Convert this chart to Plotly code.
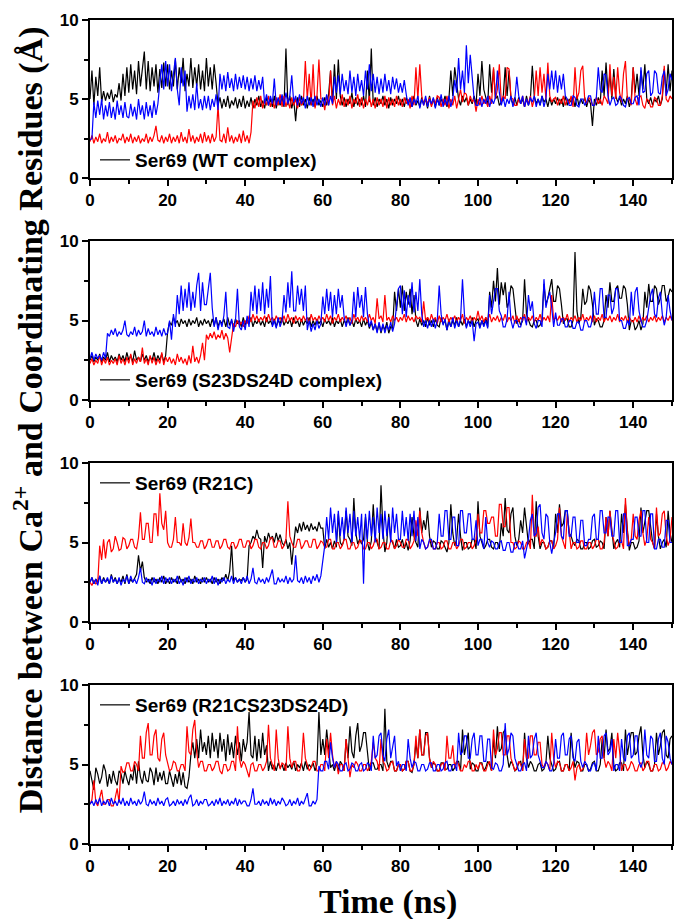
import plotly.graph_objects as go

# time axis: samples every 0.5 ns from 0 to 150 ns
TIME = [i * 0.5 for i in range(301)]

# ---------------- Panel 1: Ser69 (WT complex) ----------------
P1_BLACK = [
    5.0, 6.8, 4.6, 6.4, 5.2, 7.0, 4.8, 5.5, 4.9, 5.4, 5.0, 5.6, 4.8, 5.3, 5.1, 6.0, 4.9, 6.6, 5.2, 7.0,
    5.4, 7.2, 5.6, 6.8, 5.3, 7.4, 5.8, 7.0, 8.0, 5.6, 7.4, 5.5, 7.0, 5.8, 7.2, 5.4, 6.9, 5.7, 7.3, 5.8,
    7.2, 5.6, 6.8, 5.8, 7.5, 5.6, 7.0, 6.0, 7.6, 5.5, 6.6, 5.8, 7.6, 5.7, 7.0, 5.8, 7.2, 5.6, 6.8, 5.5,
    7.6, 5.8, 7.0, 5.6, 7.2, 6.0, 4.6, 5.1, 4.4, 5.0, 4.5, 5.2, 4.4, 4.9, 4.6, 5.1, 4.4, 5.0, 4.5, 5.2,
    4.4, 4.9, 4.5, 5.1, 4.4, 5.0, 4.6, 5.2, 4.5, 4.9, 4.4, 5.1, 4.6, 5.0, 4.5, 5.2, 4.4, 5.0, 4.6, 5.1,
    4.5, 8.2, 4.6, 5.2, 4.4, 5.0, 3.6, 5.1, 4.5, 5.2, 4.6, 5.0, 4.4, 5.1, 4.6, 5.0, 4.5, 5.2, 4.6, 4.9,
    4.5, 5.1, 4.6, 5.3, 6.8, 4.8, 7.2, 5.0, 7.5, 5.2, 4.6, 5.1, 4.5, 5.0, 4.7, 5.4, 4.5, 5.1, 4.6, 5.0,
    4.6, 5.2, 4.5, 6.8, 4.8, 8.2, 4.6, 5.1, 4.5, 5.0, 4.7, 5.2, 4.6, 5.0, 4.4, 5.1, 4.6, 5.0, 4.7, 5.2,
    4.6, 5.0, 4.5, 5.1, 4.7, 5.0, 4.5, 5.2, 4.6, 4.9, 4.5, 5.1, 4.7, 5.0, 4.4, 5.2, 4.6, 5.0, 4.5, 5.1,
    4.6, 5.0, 4.7, 5.2, 4.5, 5.0, 6.8, 5.2, 7.0, 6.0, 5.0, 4.6, 5.2, 4.8, 5.1, 4.6, 5.0, 4.7, 5.2, 4.6,
    6.6, 5.2, 7.4, 5.6, 5.0, 4.6, 7.2, 5.4, 6.9, 5.0, 5.2, 4.6, 4.8, 5.1, 7.0, 5.2, 6.8, 5.0, 4.7, 5.1,
    4.6, 5.1, 4.7, 5.0, 4.5, 5.2, 4.6, 5.0, 7.1, 5.2, 4.7, 5.0, 4.6, 5.2, 4.8, 5.0, 4.5, 5.1, 4.6, 5.0,
    4.7, 5.1, 4.6, 5.0, 4.5, 5.2, 4.6, 5.0, 4.8, 5.1, 4.5, 5.2, 4.6, 5.0, 4.7, 5.1, 4.5, 5.0, 4.7, 3.3,
    5.0, 4.6, 5.1, 4.7, 6.8, 5.2, 7.3, 5.4, 6.6, 5.0, 6.9, 5.2, 4.8, 5.1, 4.6, 5.0, 4.7, 5.2, 4.5, 5.0,
    7.0, 5.4, 6.6, 5.2, 6.8, 5.6, 7.2, 5.0, 4.7, 5.1, 4.6, 5.0, 4.8, 5.2, 4.6, 5.0, 6.9, 5.4, 7.2, 5.5,
    6.8]
P1_RED = [
    2.3, 2.7, 2.2, 2.6, 2.3, 2.8, 2.2, 2.5, 2.3, 2.9, 2.2, 2.6, 2.3, 2.7, 2.2, 2.5, 2.4, 2.8, 2.2, 2.6,
    2.3, 2.8, 2.2, 2.6, 2.3, 2.7, 2.2, 2.5, 2.3, 2.8, 2.2, 2.6, 2.3, 2.7, 3.3, 2.4, 2.3, 2.7, 2.2, 2.6,
    2.3, 2.8, 2.2, 2.6, 2.3, 2.7, 2.2, 2.9, 2.3, 2.6, 2.2, 3.1, 2.3, 2.7, 2.2, 2.6, 2.3, 2.8, 2.2, 2.9,
    2.3, 2.7, 2.2, 2.8, 2.3, 2.6, 4.6, 2.4, 2.3, 2.8, 2.2, 3.2, 2.3, 2.7, 2.2, 2.6, 2.3, 2.8, 2.2, 3.0,
    2.3, 2.7, 2.2, 2.9, 4.9, 4.4, 5.1, 4.5, 5.2, 4.4, 5.0, 4.6, 5.2, 4.5, 5.0, 4.4, 5.1, 4.6, 5.3, 4.5,
    5.2, 4.5, 5.0, 4.4, 5.1, 4.6, 5.0, 4.4, 5.1, 4.6, 4.8, 7.4, 5.0, 6.6, 4.6, 7.2, 4.4, 5.2, 7.5, 5.0,
    5.0, 4.3, 5.2, 4.6, 6.8, 4.6, 5.2, 4.4, 5.0, 4.6, 5.3, 4.5, 5.0, 4.6, 5.2, 4.4, 5.0, 4.7, 5.3, 4.5,
    5.1, 4.4, 5.0, 4.6, 5.2, 4.5, 5.0, 4.4, 5.1, 4.6, 5.0, 4.5, 5.2, 4.4, 5.1, 4.6, 5.0, 4.5, 5.2, 4.6,
    5.0, 4.5, 5.1, 4.7, 5.0, 4.4, 5.2, 4.6, 7.0, 5.0, 7.2, 5.2, 4.6, 5.0, 4.7, 5.1, 4.5, 5.0, 4.7, 5.2,
    5.1, 4.5, 5.0, 4.6, 5.2, 4.4, 5.0, 4.6, 5.2, 4.4, 5.0, 5.6, 4.8, 5.4, 5.3, 4.6, 5.2, 4.8, 5.0, 4.2,
    5.0, 4.6, 5.2, 4.7, 5.0, 4.5, 5.2, 4.7, 7.0, 5.0, 5.6, 7.2, 4.8, 5.2, 5.0, 7.0, 6.9, 5.1, 5.0, 4.6,
    4.6, 5.0, 4.7, 5.2, 4.5, 5.0, 4.7, 5.2, 4.5, 5.0, 6.8, 5.2, 7.0, 5.4, 6.6, 5.0, 7.3, 5.2, 4.8, 5.0,
    5.1, 4.6, 5.0, 4.7, 5.2, 4.6, 5.0, 4.7, 5.2, 4.5, 7.0, 5.0, 5.4, 6.8, 7.1, 5.0, 4.7, 5.1, 5.0, 4.6,
    4.6, 5.1, 4.7, 5.0, 4.6, 5.2, 5.0, 4.7, 7.2, 5.2, 6.4, 5.0, 7.0, 5.4, 4.8, 6.6, 7.4, 5.0, 5.0, 4.6,
    7.0, 5.0, 4.6, 5.1, 5.2, 4.6, 4.4, 5.0, 4.9, 4.5, 4.5, 5.1, 5.0, 4.6, 4.6, 5.2, 7.1, 5.0, 4.8, 5.2,
    5.0]
P1_BLUE = [
    2.4, 2.5, 4.8, 3.8, 4.9, 4.0, 5.0, 3.7, 4.6, 3.9, 4.8, 3.8, 4.5, 3.7, 4.9, 4.0, 4.6, 3.8, 4.8, 3.9,
    3.8, 4.7, 3.9, 4.5, 3.7, 5.0, 4.0, 4.6, 3.7, 4.8, 3.9, 4.6, 3.8, 4.9, 4.0, 4.7, 6.0, 7.2, 5.6, 7.4,
    5.8, 7.2, 5.5, 6.8, 7.6, 5.6, 4.6, 7.0, 5.8, 6.8, 4.2, 5.2, 4.4, 5.3, 4.3, 6.0, 4.4, 5.0, 4.3, 5.2,
    4.4, 5.2, 4.3, 5.0, 4.5, 5.3, 4.3, 6.6, 5.6, 6.5, 5.5, 6.7, 5.7, 6.3, 5.5, 6.6, 5.6, 6.4, 5.7, 6.5,
    5.6, 6.4, 5.5, 6.3, 5.6, 6.5, 5.5, 6.2, 5.6, 6.4, 4.7, 5.3, 4.6, 5.2, 4.7, 6.3, 4.6, 5.1, 4.7, 5.3,
    4.6, 5.4, 4.7, 5.2, 6.5, 4.8, 5.2, 4.6, 5.3, 4.7, 5.1, 4.4, 5.2, 4.6, 5.1, 4.5, 5.2, 4.6, 5.0, 4.5,
    5.1, 4.6, 5.3, 4.6, 5.2, 4.7, 6.4, 5.4, 6.5, 5.3, 6.6, 5.5, 6.2, 5.3, 6.8, 5.4, 6.4, 5.2, 6.6, 5.5,
    6.2, 5.2, 6.8, 5.6, 7.2, 5.5, 6.6, 5.4, 6.4, 5.3, 6.3, 5.4, 6.6, 5.5, 6.2, 5.3, 6.4, 5.6, 6.3, 5.4,
    6.0, 5.4, 6.2, 5.3, 4.6, 5.1, 4.5, 5.0, 4.7, 5.2, 4.4, 5.0, 4.6, 5.2, 4.5, 5.0, 4.7, 5.1, 4.4, 5.0,
    4.6, 5.3, 4.5, 5.0, 4.6, 5.2, 4.5, 5.0, 6.2, 5.4, 7.6, 5.6, 6.8, 5.4, 8.4, 6.0, 7.8, 6.4, 5.0, 4.6,
    4.6, 5.1, 4.5, 5.0, 4.7, 5.2, 4.5, 5.0, 4.7, 5.1, 6.8, 5.4, 4.6, 5.1, 4.5, 5.0, 4.7, 5.2, 4.5, 5.0,
    6.4, 5.2, 4.7, 5.2, 4.5, 5.0, 4.6, 5.1, 4.8, 5.2, 4.5, 5.0, 4.6, 5.2, 4.5, 5.0, 6.6, 5.6, 6.8, 5.6,
    6.8, 5.4, 6.5, 5.6, 6.6, 5.2, 5.0, 4.6, 4.6, 5.2, 5.1, 4.6, 4.5, 5.0, 5.0, 4.6, 4.8, 5.2, 5.2, 4.6,
    4.6, 5.1, 7.0, 5.6, 5.4, 6.6, 6.5, 5.2, 4.6, 5.0, 5.1, 4.6, 4.7, 5.2, 5.0, 4.6, 4.5, 5.0, 5.1, 4.7,
    4.7, 5.1, 5.2, 4.6, 7.0, 5.4, 5.5, 6.6, 6.8, 5.2, 5.4, 6.8, 6.6, 5.4, 5.3, 6.4, 6.8, 5.2, 5.6, 6.6,
    6.2]

# ---------------- Panel 2: Ser69 (S23DS24D complex) ----------------
P2_BLACK = [
    2.5, 2.8, 2.4, 2.7, 2.5, 2.9, 2.4, 2.7, 2.5, 3.0, 2.4, 2.8, 2.5, 2.7, 2.4, 2.9, 2.5, 2.8, 2.4, 3.0,
    2.5, 2.8, 2.4, 3.1, 2.5, 2.7, 2.4, 2.9, 2.5, 2.8, 2.4, 2.7, 2.5, 3.0, 2.4, 2.8, 2.5, 2.9, 2.4, 2.8,
    4.3, 4.9, 4.7, 5.2, 4.8, 5.0, 4.6, 5.1, 4.8, 5.0, 4.6, 5.1, 4.7, 5.0, 4.8, 5.2, 4.6, 5.0, 4.7, 5.1,
    4.8, 5.0, 4.6, 5.1, 4.7, 5.2, 4.6, 5.0, 4.8, 5.1, 4.6, 5.2, 4.7, 5.0, 4.6, 5.1, 4.8, 5.0, 4.6, 5.2,
    4.7, 5.1, 4.8, 5.2, 4.6, 5.0, 4.8, 5.1, 4.7, 5.0, 4.6, 5.2, 4.8, 5.0, 4.7, 5.1, 4.6, 5.0, 4.8, 5.2,
    4.7, 5.0, 4.8, 5.1, 4.6, 5.2, 4.8, 5.0, 4.6, 5.1, 4.7, 5.0, 4.8, 5.2, 4.6, 5.0, 4.7, 5.1, 4.8, 5.0,
    4.6, 5.1, 4.8, 5.0, 4.7, 5.2, 4.6, 5.0, 4.8, 5.1, 4.6, 5.0, 4.8, 5.2, 4.7, 5.0, 4.6, 5.1, 4.8, 5.0,
    4.6, 5.1, 4.7, 5.0, 4.5, 4.9, 4.4, 4.8, 4.3, 4.8, 4.2, 4.7, 4.4, 4.9, 4.2, 4.6, 4.5, 6.8, 5.6, 7.0,
    5.8, 7.2, 5.6, 6.8, 6.0, 7.0, 5.4, 6.6, 5.0, 4.6, 5.1, 4.7, 5.0, 4.6, 5.2, 4.7, 5.0, 4.6, 5.1, 4.7,
    4.6, 5.2, 4.8, 5.0, 4.4, 5.1, 4.6, 5.0, 4.7, 5.2, 4.6, 5.0, 4.7, 5.1, 4.6, 5.0, 4.8, 5.2, 4.6, 5.0,
    5.1, 4.6, 5.0, 4.7, 5.2, 4.6, 6.8, 5.8, 7.5, 6.2, 8.3, 6.0, 7.4, 6.6, 7.4, 5.8, 6.2, 7.2, 7.0, 6.0,
    4.8, 5.1, 4.7, 5.0, 7.6, 5.4, 5.0, 4.7, 4.6, 5.0, 5.0, 4.6, 4.7, 5.1, 7.3, 6.0, 6.4, 7.0, 7.6, 6.2,
    6.2, 7.2, 7.0, 6.0, 4.8, 5.1, 5.1, 4.6, 4.6, 5.0, 9.3, 5.6, 4.8, 5.2, 7.0, 6.0, 6.2, 7.2, 6.9, 6.0,
    4.7, 5.1, 5.0, 4.6, 4.6, 5.0, 6.6, 5.8, 7.4, 6.2, 6.2, 7.0, 7.2, 6.4, 6.4, 7.2, 7.0, 6.0, 4.4, 5.0,
    5.0, 4.4, 4.6, 5.0, 4.4, 4.8, 6.8, 5.8, 7.3, 6.2, 6.2, 7.2, 7.0, 6.0, 6.4, 7.2, 7.2, 6.2, 6.5, 7.0,
    6.8]
P2_RED = [
    2.3, 2.6, 2.2, 2.5, 2.3, 2.8, 2.2, 2.6, 2.3, 2.7, 2.2, 2.5, 2.3, 2.6, 2.2, 2.8, 2.3, 2.6, 2.2, 2.7,
    2.3, 2.9, 2.2, 2.6, 2.3, 2.7, 2.4, 3.3, 2.3, 2.6, 2.2, 2.8, 2.3, 2.7, 2.2, 2.6, 2.3, 3.0, 2.2, 2.7,
    2.4, 2.7, 2.3, 2.6, 2.2, 2.9, 2.4, 2.7, 2.3, 2.6, 2.2, 2.8, 2.3, 3.4, 2.4, 2.7, 2.3, 2.8, 3.6, 2.5,
    4.1, 3.8, 4.2, 3.9, 4.3, 3.8, 4.1, 3.9, 4.4, 3.8, 4.2, 3.9, 3.0, 4.1, 4.8, 4.6, 5.0, 4.7, 4.9, 4.6,
    5.0, 4.8, 5.3, 4.9, 5.4, 5.0, 5.3, 4.9, 5.2, 5.0, 5.3, 4.9, 5.4, 5.0, 5.2, 4.9, 5.3, 5.0, 5.2, 4.9,
    5.3, 4.9, 5.4, 5.0, 5.2, 4.8, 5.3, 5.0, 5.2, 4.9, 5.3, 5.0, 5.2, 4.8, 5.4, 5.0, 5.2, 4.9, 5.3, 5.0,
    5.2, 4.9, 5.4, 5.0, 5.3, 4.8, 5.2, 5.0, 5.4, 4.9, 5.2, 5.0, 5.3, 4.9, 5.2, 4.8, 5.4, 5.0, 5.2, 4.9,
    5.3, 5.0, 5.2, 4.9, 5.4, 5.0, 5.2, 4.8, 6.4, 5.1, 5.3, 4.9, 6.6, 5.0, 5.2, 4.9, 5.3, 5.0, 5.2, 4.9,
    5.2, 5.0, 5.4, 4.9, 5.3, 5.0, 5.2, 4.9, 5.3, 5.1, 5.2, 4.9, 6.2, 5.0, 5.2, 4.9, 5.4, 5.0, 5.2, 4.8,
    5.3, 4.9, 5.2, 5.0, 5.4, 4.9, 5.2, 5.0, 5.3, 4.9, 5.2, 5.0, 5.4, 4.8, 5.2, 5.0, 5.3, 4.9, 5.2, 5.0,
    5.6, 5.0, 5.3, 4.9, 5.2, 5.0, 5.4, 4.9, 5.2, 5.0, 5.3, 4.9, 5.2, 5.0, 5.4, 4.9, 5.2, 5.0, 5.3, 4.8,
    5.3, 4.9, 5.2, 5.0, 5.4, 4.9, 5.2, 5.0, 5.3, 4.9, 5.2, 5.0, 5.4, 4.9, 5.2, 5.0, 5.3, 4.9, 6.6, 5.0,
    5.2, 5.0, 5.3, 4.9, 5.2, 5.0, 5.4, 4.9, 5.2, 5.0, 5.3, 4.9, 5.2, 5.0, 5.4, 4.9, 5.2, 5.0, 5.3, 4.9,
    5.3, 4.9, 5.2, 5.0, 5.4, 4.9, 5.2, 5.0, 5.3, 4.9, 5.2, 5.0, 5.4, 4.9, 5.2, 5.0, 5.3, 4.9, 5.2, 5.0,
    4.9, 5.2, 4.9, 5.3, 4.9, 5.2, 5.0, 5.3, 4.9, 5.2, 5.0, 5.3, 4.9, 5.2, 5.0, 5.3, 4.9, 5.2, 5.0, 5.3,
    5.0]
P2_BLUE = [
    2.6, 3.0, 2.5, 2.9, 2.6, 2.8, 2.5, 3.0, 2.6, 4.2, 4.0, 4.4, 4.1, 4.5, 4.0, 4.3, 4.1, 4.4, 5.0, 4.1,
    4.0, 4.3, 4.1, 4.6, 4.0, 4.4, 4.1, 4.3, 5.0, 4.0, 4.5, 4.1, 4.3, 4.0, 4.6, 4.1, 4.4, 4.0, 4.5, 4.1,
    4.2, 5.0, 3.8, 5.4, 4.6, 6.6, 5.4, 7.2, 5.6, 7.0, 5.8, 7.4, 5.6, 6.8, 5.8, 7.2, 8.0, 5.6, 7.4, 6.0,
    6.0, 7.2, 8.0, 5.8, 4.6, 5.2, 4.4, 5.0, 4.6, 5.3, 6.8, 4.6, 4.5, 5.1, 4.3, 5.0, 7.0, 4.6, 4.4, 5.0,
    4.4, 5.3, 4.6, 6.8, 5.6, 7.2, 5.4, 7.0, 5.6, 7.4, 5.4, 7.0, 5.8, 7.8, 4.6, 5.0, 4.5, 5.2, 4.6, 5.0,
    6.6, 5.5, 7.4, 5.8, 8.1, 5.6, 5.6, 7.2, 6.0, 7.0, 5.6, 7.2, 4.4, 5.0, 4.3, 4.8, 4.4, 5.0, 4.5, 4.8,
    6.5, 5.4, 7.0, 5.6, 6.8, 5.2, 6.6, 5.4, 7.0, 5.8, 6.6, 5.2, 4.6, 5.1, 4.7, 5.0, 6.8, 5.2, 7.1, 5.8,
    6.6, 5.2, 7.1, 5.4, 4.6, 5.0, 4.4, 4.8, 4.2, 4.9, 4.3, 4.8, 4.2, 4.7, 4.4, 4.9, 4.3, 4.8, 5.8, 7.0,
    7.2, 5.4, 6.9, 5.2, 6.6, 5.8, 7.4, 5.5, 6.8, 5.6, 7.6, 5.4, 4.6, 5.0, 4.5, 5.0, 4.6, 5.1, 4.5, 5.0,
    7.2, 5.4, 4.7, 5.1, 4.4, 4.9, 4.6, 5.2, 4.5, 5.0, 4.6, 5.1, 7.6, 5.4, 4.5, 5.0, 4.6, 5.0, 3.7, 4.8,
    4.9, 4.5, 5.0, 4.6, 5.0, 4.5, 6.6, 5.4, 6.2, 7.0, 7.0, 5.6, 5.3, 4.6, 4.6, 5.1, 6.8, 5.0, 4.5, 5.0,
    5.0, 4.6, 4.6, 5.2, 5.2, 4.7, 6.6, 5.6, 6.2, 4.8, 4.5, 5.0, 5.0, 4.6, 7.6, 5.8, 6.4, 6.8, 5.8, 4.6,
    5.5, 4.7, 4.7, 5.1, 5.1, 4.6, 4.6, 5.0, 5.0, 4.5, 4.5, 4.9, 4.9, 4.4, 4.4, 5.0, 5.0, 4.6, 4.6, 5.1,
    6.8, 5.4, 5.4, 7.0, 7.0, 5.2, 5.2, 6.6, 6.6, 5.4, 5.8, 7.0, 7.0, 5.0, 5.0, 4.5, 4.5, 5.0, 4.7, 6.8,
    5.3, 6.8, 7.1, 5.6, 5.0, 4.6, 4.6, 5.0, 5.8, 6.6, 7.0, 5.4, 5.2, 6.4, 6.8, 5.4, 4.7, 5.2, 6.6, 5.6,
    5.0]

# ---------------- Panel 3: Ser69 (R21C) ----------------
P3_BLACK = [
    2.5, 2.8, 2.4, 2.7, 2.5, 2.9, 2.4, 2.8, 2.5, 2.7, 2.4, 3.0, 2.5, 2.8, 2.4, 2.7, 2.5, 2.9, 2.4, 3.0,
    2.4, 2.7, 2.5, 2.8, 3.0, 4.2, 3.2, 3.8, 2.8, 2.5, 2.7, 2.4, 2.8, 2.5, 2.7, 2.4, 2.8, 2.5, 2.9, 2.4,
    2.7, 2.4, 2.8, 2.5, 2.7, 2.4, 2.9, 2.5, 2.7, 2.4, 2.8, 2.5, 2.7, 2.4, 2.9, 2.5, 2.7, 2.4, 2.8, 2.5,
    2.8, 2.5, 2.7, 2.4, 2.8, 2.5, 2.7, 2.4, 2.8, 2.6, 3.0, 2.6, 3.2, 4.8, 2.6, 2.8, 2.5, 2.7, 2.6, 2.8,
    2.5, 2.7, 4.8, 5.0, 5.4, 5.2, 5.8, 5.3, 5.2, 3.4, 5.4, 5.0, 5.6, 5.2, 5.4, 5.0, 5.6, 5.1, 5.5, 5.0,
    4.8, 5.2, 4.6, 5.0, 3.6, 4.9, 6.0, 5.6, 6.2, 5.7, 6.3, 5.8, 6.1, 5.7, 6.2, 5.8, 6.0, 5.7, 6.3, 5.9,
    5.9, 4.6, 5.2, 4.7, 5.0, 4.6, 5.1, 4.7, 6.8, 5.0, 4.8, 5.2, 7.0, 5.4, 5.2, 4.8, 7.8, 5.6, 4.9, 5.2,
    4.9, 5.2, 6.6, 5.0, 4.5, 5.1, 7.4, 5.4, 5.0, 4.6, 8.6, 5.8, 4.4, 5.0, 6.8, 5.2, 5.0, 4.6, 5.2, 4.7,
    4.8, 5.2, 4.6, 5.0, 4.5, 5.1, 6.6, 5.4, 5.0, 4.7, 7.2, 5.6, 6.4, 5.8, 7.0, 5.4, 4.7, 5.1, 5.0, 4.6,
    4.6, 5.1, 5.0, 4.7, 4.4, 5.0, 7.4, 5.6, 4.8, 5.2, 6.8, 5.4, 4.5, 5.0, 5.0, 4.6, 4.7, 5.2, 5.2, 4.6,
    7.6, 5.4, 5.0, 4.6, 4.8, 5.2, 5.2, 4.7, 4.6, 5.0, 5.0, 4.6, 6.2, 5.4, 7.8, 5.8, 5.6, 6.8, 7.2, 5.4,
    4.8, 5.2, 6.4, 5.6, 7.2, 5.8, 4.9, 5.2, 5.2, 4.6, 7.6, 5.4, 4.6, 5.0, 5.0, 4.6, 4.7, 5.1, 5.1, 4.6,
    6.8, 5.6, 7.4, 6.0, 6.2, 7.0, 7.0, 5.6, 5.4, 5.0, 4.8, 5.2, 5.1, 4.6, 4.6, 5.0, 5.0, 4.6, 4.7, 5.1,
    5.2, 4.7, 4.8, 5.1, 5.0, 4.6, 6.6, 5.4, 7.0, 5.8, 4.6, 5.0, 5.2, 4.7, 6.8, 5.6, 7.4, 5.8, 4.5, 5.0,
    5.0, 4.6, 4.7, 5.1, 7.2, 5.6, 6.4, 7.0, 7.0, 5.8, 5.0, 4.6, 6.8, 5.4, 4.6, 5.0, 5.2, 4.7, 7.0, 5.6,
    5.0]
P3_RED = [
    2.5, 2.3, 2.6, 2.4, 2.5, 4.8, 3.9, 5.2, 4.0, 5.0, 5.2, 4.4, 4.6, 5.4, 5.0, 4.5, 4.6, 5.3, 5.2, 4.6,
    4.8, 5.2, 5.2, 4.7, 4.6, 5.3, 6.9, 5.2, 5.2, 6.2, 6.2, 5.0, 5.0, 6.8, 6.8, 5.4, 8.1, 6.2, 5.8, 7.0,
    5.0, 4.7, 4.7, 5.2, 6.6, 5.0, 5.0, 4.8, 6.2, 5.0, 4.8, 5.3, 6.5, 5.0, 5.0, 4.7, 4.7, 5.1, 5.1, 4.6,
    4.8, 5.2, 5.2, 4.7, 4.7, 5.1, 5.1, 4.6, 4.8, 5.2, 5.2, 4.7, 4.6, 5.0, 5.0, 4.6, 4.8, 5.2, 5.2, 4.7,
    4.7, 5.1, 5.1, 4.6, 4.8, 5.2, 5.2, 4.7, 4.6, 5.0, 5.0, 4.6, 4.8, 5.3, 5.3, 4.7, 4.7, 5.1, 5.1, 4.6,
    4.8, 5.2, 7.6, 5.4, 5.0, 4.7, 4.7, 5.2, 5.2, 4.6, 4.8, 5.1, 5.1, 4.7, 4.7, 5.2, 5.2, 4.6, 4.8, 5.1,
    5.0, 4.7, 4.7, 5.2, 5.2, 4.6, 4.6, 5.0, 5.0, 4.6, 4.8, 5.2, 5.2, 4.6, 4.6, 5.0, 5.0, 4.6, 4.7, 5.1,
    5.1, 4.6, 4.6, 5.0, 5.0, 4.6, 4.8, 5.2, 5.2, 4.6, 4.7, 5.0, 5.0, 4.6, 4.6, 5.1, 5.1, 4.6, 4.8, 5.2,
    5.0, 4.7, 4.7, 5.2, 5.2, 4.6, 4.8, 5.1, 6.4, 5.4, 7.0, 5.6, 5.0, 4.6, 4.7, 5.1, 5.1, 4.6, 4.6, 5.0,
    5.0, 4.6, 4.7, 5.1, 5.1, 4.6, 4.6, 5.0, 5.0, 4.6, 4.8, 5.2, 5.2, 4.6, 4.7, 5.0, 5.0, 4.6, 4.8, 5.2,
    6.8, 5.6, 5.6, 7.0, 7.0, 6.2, 6.2, 6.6, 6.6, 5.4, 5.4, 7.4, 7.4, 6.0, 6.0, 7.2, 7.2, 5.0, 5.0, 4.6,
    4.7, 5.1, 5.0, 4.6, 4.6, 5.0, 5.1, 4.6, 8.0, 5.4, 5.4, 6.0, 4.8, 5.2, 5.0, 4.6, 4.7, 5.1, 5.1, 4.6,
    4.8, 5.2, 7.2, 5.4, 5.0, 4.6, 6.8, 5.6, 4.6, 5.0, 5.0, 4.6, 4.7, 5.1, 5.1, 4.6, 4.6, 5.0, 5.0, 4.6,
    4.8, 5.2, 5.2, 4.6, 4.6, 5.0, 6.6, 5.4, 7.0, 5.6, 5.0, 4.6, 4.7, 5.1, 5.1, 4.6, 7.8, 5.6, 4.8, 5.2,
    6.8, 5.4, 5.2, 6.4, 7.0, 5.6, 4.8, 5.2, 6.6, 5.2, 5.0, 4.6, 7.2, 5.4, 5.6, 6.8, 7.0, 5.4, 4.8, 5.2,
    6.6]
P3_BLUE = [
    2.5, 2.8, 2.4, 2.7, 2.3, 2.9, 2.4, 2.7, 2.5, 2.8, 2.4, 2.9, 2.5, 2.7, 2.4, 2.8, 2.3, 2.7, 2.5, 2.9,
    2.4, 2.9, 2.5, 2.7, 2.4, 2.8, 3.4, 2.5, 2.4, 2.8, 2.5, 2.7, 2.3, 2.8, 2.4, 2.7, 2.5, 2.9, 2.4, 2.8,
    2.5, 2.8, 2.4, 2.7, 2.5, 2.9, 2.4, 2.7, 2.3, 2.8, 2.5, 2.9, 2.4, 2.7, 2.5, 2.8, 2.4, 2.7, 2.5, 2.8,
    2.4, 2.7, 2.5, 2.9, 2.4, 2.8, 2.3, 2.7, 2.5, 2.8, 2.4, 2.7, 2.5, 2.9, 2.4, 2.8, 2.5, 2.7, 2.4, 2.8,
    2.5, 2.9, 2.4, 2.7, 3.4, 2.5, 2.4, 2.8, 2.5, 2.7, 2.4, 2.8, 2.5, 2.9, 3.3, 2.4, 2.4, 2.8, 2.5, 2.7,
    2.5, 2.9, 2.4, 2.8, 2.5, 2.7, 4.2, 2.6, 2.5, 2.8, 2.4, 2.9, 2.5, 2.8, 2.4, 2.9, 2.6, 3.0, 2.5, 2.9,
    4.0, 4.8, 6.6, 5.2, 7.2, 5.6, 6.8, 5.0, 7.0, 5.4, 6.6, 5.2, 7.2, 5.6, 6.8, 5.0, 7.0, 5.4, 6.6, 5.2,
    6.8, 2.4, 6.8, 5.2, 7.0, 5.4, 6.6, 5.0, 7.2, 5.6, 6.8, 5.2, 7.0, 5.4, 6.6, 5.0, 7.2, 5.6, 6.8, 5.2,
    5.2, 7.0, 5.4, 6.6, 5.1, 6.8, 5.4, 7.0, 5.1, 6.6, 4.6, 5.2, 5.0, 4.6, 4.7, 5.2, 5.2, 4.6, 4.6, 5.0,
    6.8, 5.4, 5.4, 7.0, 7.0, 5.2, 5.2, 6.6, 6.6, 4.8, 4.8, 7.0, 7.0, 5.6, 5.6, 6.8, 6.8, 5.2, 5.2, 6.4,
    4.8, 5.2, 5.2, 4.6, 6.6, 5.0, 4.7, 5.1, 5.0, 4.6, 4.6, 5.0, 5.1, 4.5, 4.5, 5.0, 5.0, 4.4, 4.4, 5.0,
    5.0, 4.6, 4.6, 5.1, 4.0, 4.6, 5.2, 6.4, 6.8, 5.4, 5.6, 7.2, 7.4, 5.6, 5.2, 6.8, 6.6, 5.0, 4.3, 5.0,
    5.6, 6.8, 6.8, 5.4, 5.2, 7.0, 7.0, 5.4, 5.4, 6.6, 6.6, 5.0, 5.0, 6.4, 6.4, 4.8, 4.8, 5.2, 5.2, 6.6,
    6.8, 5.2, 5.2, 7.0, 7.0, 5.6, 5.6, 6.6, 6.6, 5.4, 5.4, 7.0, 7.0, 5.0, 5.0, 6.8, 6.8, 4.8, 4.8, 5.2,
    5.2, 6.6, 6.6, 5.4, 5.4, 7.0, 7.0, 5.0, 5.0, 6.8, 6.8, 4.6, 4.6, 5.2, 5.2, 4.7, 4.7, 6.4, 6.4, 5.0,
    5.0]

# ---------------- Panel 4: Ser69 (R21CS23DS24D) ----------------
P4_BLACK = [
    4.6, 4.0, 3.4, 4.8, 4.4, 3.8, 4.2, 5.0, 4.6, 3.6, 4.4, 3.8, 4.6, 4.0, 3.7, 4.6, 4.4, 3.8, 4.6, 4.1,
    3.7, 4.4, 4.0, 5.0, 3.8, 5.2, 4.2, 3.8, 4.6, 4.0, 3.9, 4.8, 4.5, 3.7, 4.8, 3.9, 4.5, 4.0, 4.6, 3.8,
    3.8, 4.6, 4.0, 3.6, 4.4, 3.8, 4.6, 3.7, 4.5, 3.6, 3.5, 4.2, 5.6, 6.4, 5.4, 6.6, 5.4, 7.2, 5.8, 6.4,
    5.6, 6.8, 5.4, 7.0, 5.8, 6.6, 5.4, 7.0, 5.8, 6.6, 5.2, 6.9, 5.6, 6.4, 5.4, 6.8, 5.6, 6.4, 5.2, 6.6,
    5.8, 6.4, 8.3, 5.6, 5.4, 6.8, 5.2, 6.6, 5.4, 7.0, 5.6, 6.2, 4.6, 5.2, 4.7, 5.0, 4.6, 5.1, 4.8, 5.0,
    4.6, 5.1, 4.8, 5.0, 4.7, 5.2, 4.6, 5.0, 4.8, 5.1, 4.6, 5.2, 4.7, 5.0, 4.8, 5.1, 4.6, 5.0, 8.3, 5.6,
    6.6, 5.6, 7.2, 5.8, 4.8, 5.0, 4.6, 5.1, 4.6, 5.2, 5.0, 4.6, 6.6, 5.4, 7.4, 5.8, 5.4, 6.8, 7.6, 5.8,
    6.2, 7.0, 7.0, 5.8, 4.6, 5.1, 5.1, 4.7, 4.7, 5.0, 5.0, 4.6, 8.5, 5.2, 4.8, 5.2, 5.2, 4.6, 4.6, 5.0,
    5.0, 4.6, 4.7, 5.2, 5.2, 4.6, 4.5, 5.0, 6.4, 5.4, 7.2, 5.6, 5.6, 7.0, 7.0, 5.4, 4.8, 5.1, 5.0, 4.6,
    4.6, 5.1, 5.1, 4.7, 4.7, 5.0, 5.0, 4.6, 4.8, 5.2, 5.2, 4.6, 7.2, 5.6, 6.2, 7.0, 4.7, 5.1, 5.0, 4.6,
    4.6, 5.1, 5.1, 4.6, 4.8, 5.2, 5.0, 4.6, 6.6, 5.4, 7.4, 5.8, 6.0, 7.0, 7.2, 5.6, 4.8, 5.2, 5.0, 4.6,
    4.7, 5.1, 5.2, 4.6, 7.0, 5.4, 4.8, 5.2, 5.0, 4.6, 4.6, 5.0, 5.1, 4.6, 4.7, 5.1, 6.8, 5.4, 5.0, 4.6,
    4.7, 5.1, 5.2, 4.6, 4.6, 5.0, 5.0, 4.6, 7.0, 5.6, 4.8, 5.2, 5.1, 4.6, 4.6, 5.0, 5.0, 4.6, 4.7, 5.1,
    5.2, 4.6, 4.6, 5.0, 6.6, 5.4, 7.2, 5.8, 6.0, 7.0, 5.0, 4.6, 4.7, 5.1, 5.1, 4.6, 7.2, 5.6, 6.4, 7.0,
    7.0, 5.6, 5.8, 6.8, 7.4, 5.6, 4.8, 5.2, 5.0, 4.6, 4.6, 5.0, 7.0, 5.6, 6.2, 7.0, 7.2, 5.6, 5.4, 6.6,
    6.8]
P4_RED = [
    2.5, 2.8, 4.0, 2.6, 2.4, 2.9, 3.4, 2.5, 2.5, 2.8, 2.8, 2.4, 2.4, 2.9, 3.5, 2.6, 4.9, 4.5, 4.6, 5.1,
    5.1, 4.6, 4.6, 5.2, 5.0, 4.6, 6.8, 5.4, 5.4, 7.0, 7.6, 5.6, 5.6, 6.8, 7.2, 5.4, 5.2, 6.6, 7.0, 5.6,
    5.0, 4.6, 4.7, 5.2, 5.1, 4.6, 4.6, 5.0, 5.0, 4.6, 7.4, 5.8, 5.6, 7.2, 7.8, 5.8, 4.8, 5.2, 5.2, 4.6,
    4.6, 5.0, 5.0, 4.6, 4.8, 5.2, 5.2, 4.6, 4.4, 5.0, 5.0, 4.6, 4.7, 5.2, 5.2, 4.6, 7.4, 5.4, 4.8, 5.2,
    5.0, 4.6, 4.2, 5.0, 5.1, 4.6, 4.6, 5.0, 5.0, 4.6, 4.8, 5.2, 7.5, 5.4, 5.0, 4.6, 7.2, 5.4, 4.7, 5.1,
    5.0, 4.6, 7.4, 5.4, 4.8, 5.2, 5.2, 4.6, 4.6, 5.0, 7.0, 5.4, 5.0, 4.6, 4.8, 5.2, 5.2, 4.6, 4.6, 5.0,
    5.0, 4.6, 6.6, 5.4, 7.0, 5.6, 4.8, 5.2, 4.4, 5.0, 5.0, 4.6, 6.6, 5.2, 4.2, 5.0, 4.8, 5.2, 5.0, 4.6,
    4.6, 5.0, 5.0, 4.6, 4.8, 5.2, 6.4, 5.4, 5.2, 4.6, 6.6, 5.2, 5.0, 4.6, 4.7, 5.1, 5.2, 4.6, 4.6, 5.0,
    5.0, 4.6, 4.7, 5.2, 5.2, 4.6, 4.6, 5.0, 6.8, 5.4, 7.2, 5.6, 5.6, 6.8, 7.0, 5.4, 4.8, 5.2, 5.0, 4.6,
    4.6, 5.0, 5.1, 4.6, 6.8, 5.4, 5.4, 6.2, 4.8, 5.2, 5.0, 4.6, 4.6, 5.0, 4.8, 5.2, 5.2, 4.6, 4.6, 5.0,
    4.7, 5.1, 5.0, 4.6, 4.6, 5.0, 5.2, 4.6, 7.2, 5.6, 6.0, 7.0, 7.0, 5.6, 5.6, 6.8, 6.8, 5.4, 5.0, 4.6,
    4.8, 5.2, 5.0, 4.6, 6.6, 5.4, 5.4, 6.8, 6.8, 5.6, 5.6, 6.4, 6.4, 5.0, 4.8, 5.2, 5.0, 4.6, 7.0, 5.4,
    4.8, 5.2, 5.1, 4.6, 4.6, 5.0, 5.0, 4.6, 4.8, 5.2, 4.0, 4.8, 5.0, 4.6, 4.7, 5.1, 7.0, 5.6, 6.2, 7.0,
    7.2, 5.6, 5.8, 6.6, 6.8, 5.4, 4.8, 5.2, 5.0, 4.6, 6.6, 5.4, 7.0, 5.6, 4.6, 5.0, 5.0, 4.6, 4.8, 5.2,
    5.0, 4.6, 4.6, 5.0, 5.1, 4.6, 4.8, 5.2, 5.2, 4.6, 4.6, 5.0, 5.0, 4.6, 4.7, 5.1, 5.1, 4.6, 4.8, 5.2,
    5.0]
P4_BLUE = [
    2.5, 2.7, 2.4, 2.8, 2.5, 2.9, 2.4, 2.7, 2.5, 2.8, 2.4, 2.9, 2.5, 2.7, 2.4, 2.8, 2.5, 2.9, 2.4, 2.7,
    2.4, 2.9, 2.5, 2.7, 2.4, 2.8, 2.5, 2.7, 3.3, 2.5, 2.4, 2.8, 2.5, 2.7, 2.4, 2.9, 2.5, 2.7, 2.4, 2.8,
    2.9, 2.4, 2.5, 2.7, 2.4, 2.8, 2.5, 2.7, 2.4, 2.8, 2.5, 2.9, 3.1, 2.4, 2.5, 2.8, 2.4, 2.7, 2.5, 2.8,
    2.8, 2.4, 2.5, 2.7, 2.4, 2.8, 2.5, 2.9, 2.4, 2.7, 2.5, 2.8, 2.4, 2.7, 2.5, 2.9, 2.4, 2.8, 2.5, 2.7,
    2.7, 2.4, 2.4, 2.8, 3.5, 2.5, 2.5, 2.7, 2.4, 2.8, 2.5, 2.7, 2.4, 2.9, 2.5, 2.8, 2.4, 2.7, 2.5, 2.9,
    2.7, 2.4, 2.5, 2.8, 2.4, 2.7, 2.5, 2.9, 2.4, 2.7, 2.5, 2.8, 3.2, 2.4, 2.4, 2.7, 2.5, 2.8, 4.9, 4.6,
    4.6, 5.2, 5.2, 4.7, 6.4, 5.4, 4.8, 5.2, 5.0, 4.6, 4.6, 5.0, 5.1, 4.6, 4.7, 5.1, 5.0, 4.6, 4.6, 5.0,
    5.1, 4.6, 4.7, 5.1, 5.0, 4.6, 6.8, 5.4, 5.6, 6.8, 7.0, 5.6, 5.2, 6.6, 7.2, 5.4, 6.0, 6.8, 4.9, 5.2,
    4.6, 5.0, 5.0, 4.6, 6.6, 5.4, 4.8, 5.2, 5.1, 4.6, 4.6, 5.0, 5.0, 4.6, 4.7, 5.1, 5.1, 4.6, 4.6, 5.0,
    5.0, 4.6, 4.7, 5.1, 5.2, 4.6, 4.6, 5.0, 5.0, 4.6, 7.0, 5.6, 5.8, 6.8, 6.8, 5.4, 5.4, 6.6, 7.0, 5.6,
    5.6, 6.8, 6.8, 5.2, 5.2, 6.6, 6.6, 4.8, 4.7, 5.1, 5.0, 4.6, 4.6, 5.0, 7.6, 5.6, 6.0, 7.0, 6.8, 5.4,
    5.0, 4.6, 4.6, 5.0, 5.1, 4.6, 6.8, 5.4, 5.6, 6.6, 7.0, 5.6, 5.2, 4.8, 4.8, 5.2, 5.0, 4.6, 4.6, 5.0,
    6.6, 5.4, 5.4, 6.8, 7.0, 5.6, 5.6, 6.6, 6.8, 5.4, 5.2, 6.4, 6.6, 5.2, 4.8, 5.2, 5.0, 4.6, 4.6, 5.0,
    5.1, 4.6, 6.8, 5.4, 5.4, 6.8, 7.0, 5.6, 5.8, 6.6, 4.6, 5.0, 5.0, 4.6, 6.6, 5.4, 5.2, 6.8, 7.0, 5.4,
    5.6, 6.8, 6.8, 5.2, 4.8, 5.2, 7.2, 5.6, 5.4, 6.8, 6.6, 5.2, 5.2, 6.6, 7.0, 5.4, 5.0, 6.8, 6.4, 5.4,
    5.0]

LABELS = ["Ser69 (WT complex)", "Ser69 (S23DS24D complex)",
          "Ser69 (R21C)", "Ser69 (R21CS23DS24D)"]
PANELS = [(P1_BLACK, P1_RED, P1_BLUE), (P2_BLACK, P2_RED, P2_BLUE),
          (P3_BLACK, P3_RED, P3_BLUE), (P4_BLACK, P4_RED, P4_BLUE)]
X_TICKS = [0, 20, 40, 60, 80, 100, 120, 140]
X_MINOR = [10, 30, 50, 70, 90, 110, 130, 150]
Y_TICKS = [0, 5, 10]
Y_MINOR = [2.5, 7.5]

W, H = 676, 919
ML, MR, MT, MB = 90, 2, 20, 75
PH = H - MT - MB
PW = W - ML - MR
PANEL_PX = [(20, 178), (241, 400), (463, 622), (685, 844)]
LEGEND_PX = [160, 380, 483, 705]


def py(p):
    return 1 - (p - MT) / PH


fig = go.Figure()
tickfont = dict(family="Arial, Liberation Sans", size=17, color="black", weight="bold")

for i, (blk, red, blu) in enumerate(PANELS):
    n = i + 1
    xa = "x" if n == 1 else f"x{n}"
    ya = "y" if n == 1 else f"y{n}"
    lg = "legend" if n == 1 else f"legend{n}"
    fig.add_trace(go.Scatter(x=TIME[:len(blk)], y=blk, mode="lines", name=LABELS[i],
                             line=dict(color="black", width=1.2), xaxis=xa, yaxis=ya,
                             legend=lg, showlegend=True))
    fig.add_trace(go.Scatter(x=TIME[:len(red)], y=red, mode="lines", name="red residue",
                             line=dict(color="#ff0000", width=1.2), xaxis=xa, yaxis=ya,
                             showlegend=False))
    fig.add_trace(go.Scatter(x=TIME[:len(blu)], y=blu, mode="lines", name="blue residue",
                             line=dict(color="#0000ff", width=1.2), xaxis=xa, yaxis=ya,
                             showlegend=False))
    top, bot = PANEL_PX[i]
    axx = dict(domain=[0, 1], anchor=ya, range=[0, 150], tickvals=X_TICKS,
               ticks="outside", ticklen=6, tickwidth=2, tickcolor="black",
               showline=True, linewidth=2, linecolor="black", mirror=True,
               showgrid=False, zeroline=False, tickfont=tickfont,
               minor=dict(tickvals=X_MINOR, ticks="outside", ticklen=4,
                          tickwidth=2, tickcolor="black", showgrid=False))
    axy = dict(domain=[py(bot), py(top)], anchor=xa, range=[0, 10], tickvals=Y_TICKS,
               ticks="outside", ticklen=6, tickwidth=2, tickcolor="black",
               showline=True, linewidth=2, linecolor="black", mirror=True,
               showgrid=False, zeroline=False, tickfont=tickfont,
               minor=dict(tickvals=Y_MINOR, ticks="outside", ticklen=4,
                          tickwidth=2, tickcolor="black", showgrid=False))
    fig.layout["xaxis" if n == 1 else f"xaxis{n}"] = axx
    fig.layout["yaxis" if n == 1 else f"yaxis{n}"] = axy
    fig.layout[lg] = dict(x=5 / PW, y=py(LEGEND_PX[i]), xanchor="left", yanchor="middle",
                          bgcolor="rgba(0,0,0,0)",
                          font=dict(family="Arial, Liberation Sans", size=19,
                                    color="black", weight="bold"))

fig.add_annotation(text="Distance between Ca<sup>2+</sup> and Coordinating Residues (Å)",
                   xref="paper", yref="paper", x=(28 - ML) / PW, y=py(420),
                   xanchor="center", yanchor="middle", textangle=-90, showarrow=False,
                   font=dict(family="Times New Roman, Liberation Serif", size=34,
                             color="black", weight="bold"))
fig.add_annotation(text="Time (ns)", xref="paper", yref="paper",
                   x=(389 - ML) / PW, y=py(902),
                   xanchor="center", yanchor="middle", showarrow=False,
                   font=dict(family="Times New Roman, Liberation Serif", size=34,
                             color="black", weight="bold"))

fig.update_layout(width=W, height=H, margin=dict(l=ML, r=MR, t=MT, b=MB),
                  plot_bgcolor="white", paper_bgcolor="white")
fig.write_html("out.html", config={"displayModeBar": False},
               post_script="document.body.style.margin='0px';")
